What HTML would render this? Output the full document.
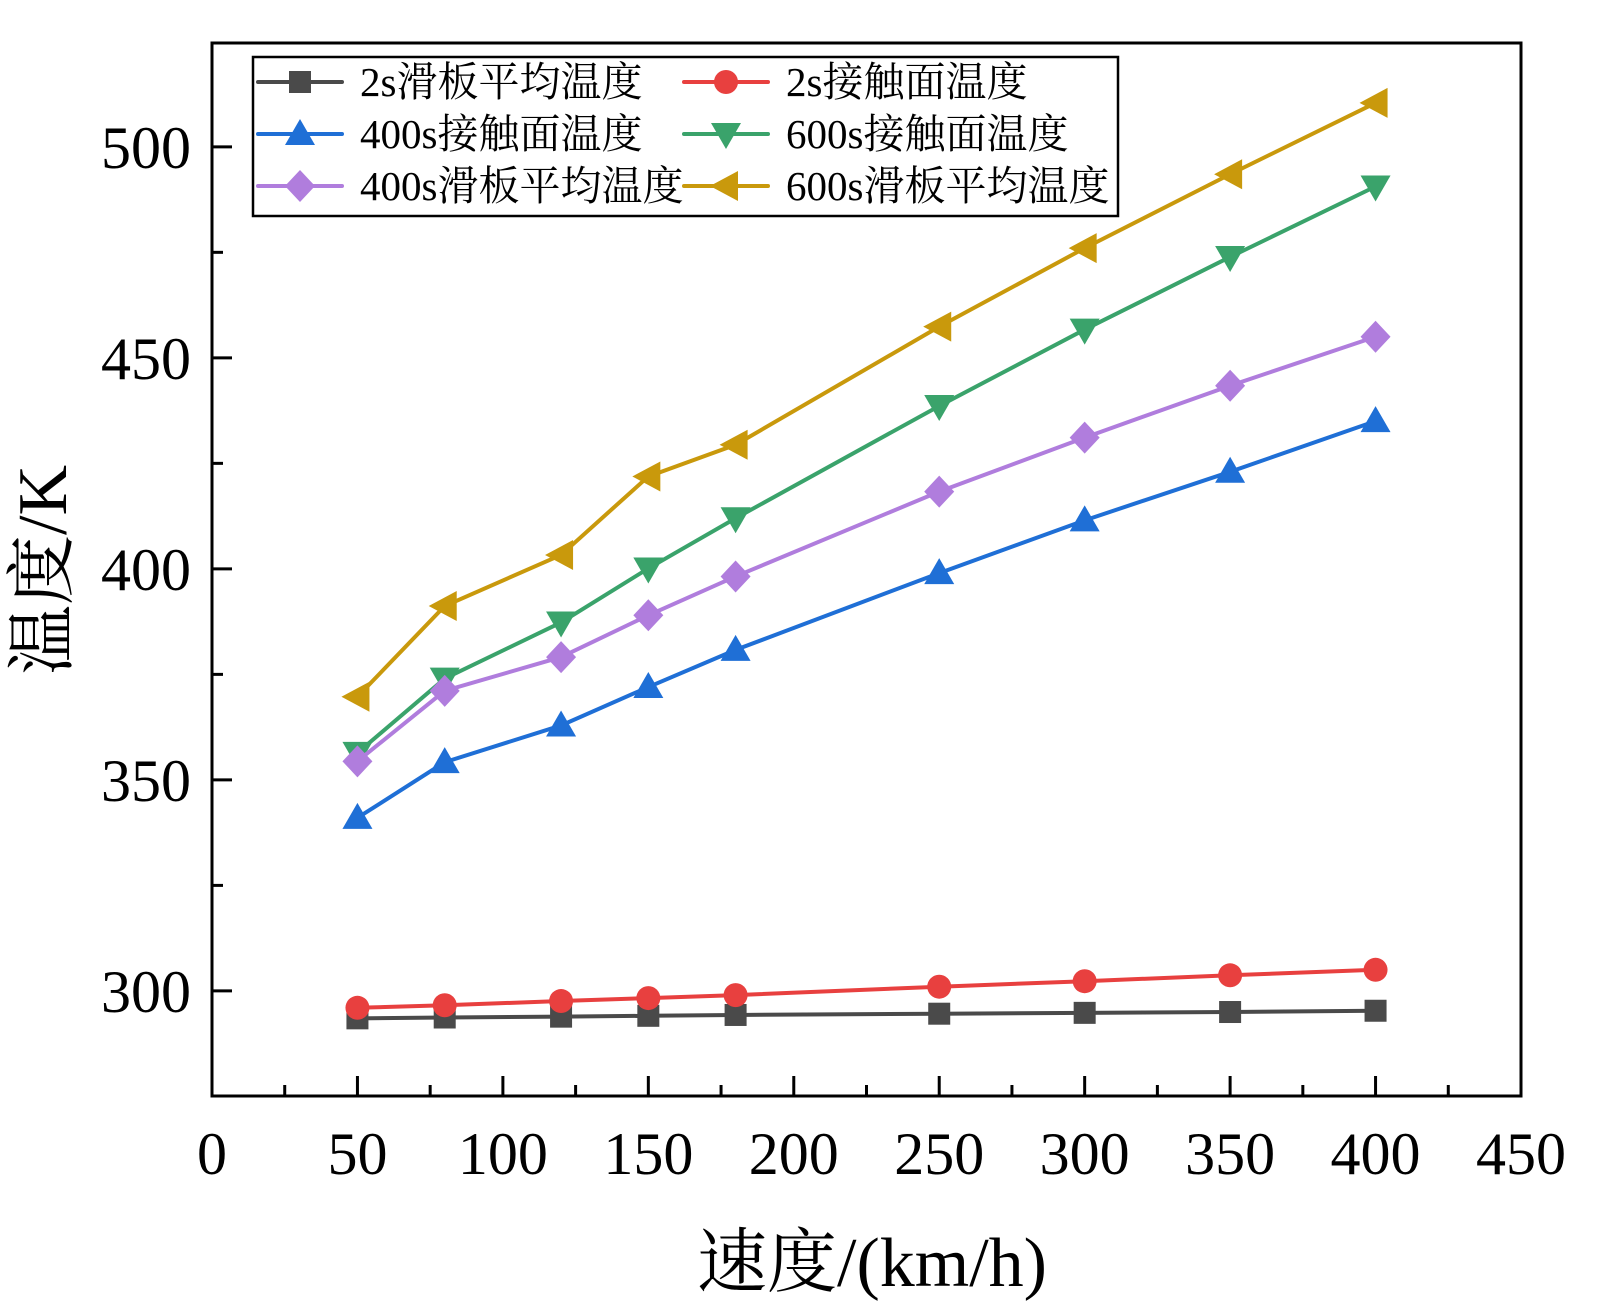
<!DOCTYPE html>
<html><head><meta charset="utf-8"><style>
html,body{margin:0;padding:0;background:#fff;}
svg{display:block;font-family:"Liberation Serif","Noto Serif CJK SC",serif;}
</style></head><body>
<svg id="chart" width="1600" height="1301" viewBox="0 0 1600 1301"></svg>
<script>
const speeds=[50,80,120,150,180,250,300,350,400];
const avg2s=[293.5,293.7,293.9,294.1,294.3,294.6,294.8,295,295.3];
const contact2s=[296,296.6,297.6,298.3,299,301,302.3,303.7,305];
const contact400s=[341,354.2,362.9,372,380.8,399,411.5,423,435];
const contact600s=[356.4,374,387.3,400.1,412,438.6,456.7,473.9,490.6];
const avg400s=[354.4,371.1,379.1,389,398.2,418.3,431.1,443.4,455];
const avg600s=[369.7,391.2,403.3,421.9,429.4,457.4,476,493.5,510.4];
const xTicks=[0,50,100,150,200,250,300,350,400,450];
const yTicks=[300,350,400,450,500];
const seriesNames=["2s滑板平均温度","2s接触面温度","400s接触面温度","600s接触面温度","400s滑板平均温度","600s滑板平均温度"];

const NS="http://www.w3.org/2000/svg";
const svg=document.getElementById('chart');
const L=212,R=1521,T=43,B=1096;
const xMin=0,xMax=450,yMin=275.1,yMax=524.6;
const xs=v=>L+(v-xMin)/(xMax-xMin)*(R-L);
const ys=v=>B-(v-yMin)/(yMax-yMin)*(B-T);
function el(tag,attrs,parent){const e=document.createElementNS(NS,tag);for(const k in attrs)e.setAttribute(k,attrs[k]);(parent||svg).appendChild(e);return e;}

const frame=el('rect',{x:L,y:T,width:R-L,height:B-T,fill:'none',stroke:'#000','stroke-width':3});



for(let v=0;v<=450;v+=25){
  const major=v%50===0;
  const t=el('line',{x1:xs(v),x2:xs(v),y1:B,y2:B-(major?20:11),stroke:'#000','stroke-width':3});
  
  
}
xTicks.forEach(v=>{
  const t=el('text',{x:xs(v),y:1174,'font-size':60,'text-anchor':'middle'});
  t.textContent=v;
  
  
});
for(let v=300;v<=524;v+=25){
  const major=v%50===0;
  const t=el('line',{x1:L,x2:L+(major?20:11),y1:ys(v),y2:ys(v),stroke:'#000','stroke-width':3});
  
  
}
yTicks.forEach(v=>{
  const t=el('text',{x:191,y:ys(v)+21,'font-size':60,'text-anchor':'end'});
  t.textContent=v;
  
  
});
const xt=el('text',{x:872,y:1286,'font-size':70,'text-anchor':'middle'});
xt.textContent='速度/(km/h)';


const yt=el('text',{x:0,y:0,'font-size':70,'text-anchor':'middle',transform:'translate(66,570) rotate(-90)'});
yt.textContent='温度/K';



function marker(type,cx,cy,color,parent){
  const s=15;let m;
  if(type==='square')m=el('rect',{x:cx-11,y:cy-11,width:22,height:22,fill:color},parent);
  else if(type==='circle')m=el('circle',{cx,cy,r:12,fill:color},parent);
  else if(type==='up')m=el('polygon',{points:`${cx},${cy-s} ${cx-s},${cy+11} ${cx+s},${cy+11}`,fill:color},parent);
  else if(type==='down')m=el('polygon',{points:`${cx},${cy+s} ${cx-s},${cy-11} ${cx+s},${cy-11}`,fill:color},parent);
  else if(type==='diamond')m=el('polygon',{points:`${cx},${cy-16} ${cx+15},${cy} ${cx},${cy+16} ${cx-15},${cy}`,fill:color},parent);
  else m=el('polygon',{points:`${cx-16},${cy} ${cx+12},${cy-15} ${cx+12},${cy+15}`,fill:color},parent);
  return m;
}
const series=[
  {name:seriesNames[0],data:avg2s,color:'#4a4a4a',m:'square',key:'avg-2s'},
  {name:seriesNames[1],data:contact2s,color:'#e8403f',m:'circle',key:'contact-2s'},
  {name:seriesNames[2],data:contact400s,color:'#1f6fd6',m:'up',key:'contact-400s'},
  {name:seriesNames[3],data:contact600s,color:'#3aa36b',m:'down',key:'contact-600s'},
  {name:seriesNames[4],data:avg400s,color:'#b07ddd',m:'diamond',key:'avg-400s'},
  {name:seriesNames[5],data:avg600s,color:'#c9990c',m:'left',key:'avg-600s'}
];
series.forEach(s=>{
  const g=el('g',{});
  
  
  const pl=el('polyline',{points:speeds.map((x,i)=>xs(x)+','+ys(s.data[i])).join(' '),fill:'none',stroke:s.color,'stroke-width':4},g);
  
  
  speeds.forEach((x,i)=>{
    const m=marker(s.m,xs(x),ys(s.data[i]),s.color,g);
    
    
  });
});
const lg=el('g',{});


const lb=el('rect',{x:253,y:57,width:865,height:159,fill:'#fff',stroke:'#000','stroke-width':2.5},lg);


const rowsY=[82,134,186],colX=[258,684];
series.forEach((s,i)=>{
  const cx=colX[i%2],cy=rowsY[Math.floor(i/2)];
  const e=el('g',{},lg);
  
  
  el('line',{x1:cx,x2:cx+84,y1:cy,y2:cy,stroke:s.color,'stroke-width':4,'stroke-linecap':'round'},e);
  marker(s.m,cx+42,cy,s.color,e);
  const t=el('text',{x:cx+102,y:cy+14,'font-size':41},e);
  t.textContent=s.name;
});
</script>
</body></html>
